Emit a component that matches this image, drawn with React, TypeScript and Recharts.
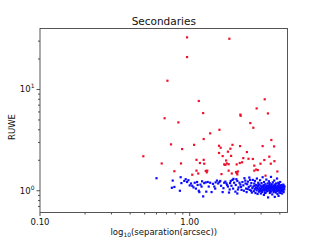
import React from "react";
import { ScatterChart, Scatter, XAxis, YAxis } from "recharts";

const redSep = [0.96, 1.84, 0.96, 0.71, 1.15, 3.17, 2.8, 0.68, 1.23, 2.18, 2.19, 3.33, 0.84, 2.54, 2.66, 1.58, 1.37, 1.24, 3.51, 0.75, 1.07, 1.57, 1.61, 1.93, 1.87, 2.17, 3.07, 3.66, 0.89, 1.57, 0.49, 1.8, 2.41, 1.66, 1.89, 1.11, 1.24, 1.75, 2.28, 2.47, 2.64, 3.4, 3.15, 3.68, 0.65, 0.875, 1.17, 1.25, 1.77, 1.7, 1.73, 1.82, 2.16, 2.24, 2.06, 2.7, 2.97, 3.48, 0.79, 1.11, 1.14, 1.28, 1.31, 1.3, 1.82, 1.91, 2.06, 2.1, 2.04, 2.08, 2.7, 2.78, 2.85, 3.85, 1.63, 1.04, 3.21];
const redRuwe = [32.7, 31.7, 20.9, 12.2, 7.7, 8.0, 6.5, 5.2, 5.85, 5.65, 5.5, 5.8, 4.73, 4.66, 4.19, 4.0, 3.69, 3.24, 3.17, 2.87, 2.84, 2.78, 2.66, 2.84, 2.6, 2.76, 2.76, 2.74, 2.58, 2.36, 2.19, 2.43, 2.41, 2.2, 2.21, 2.02, 2.02, 1.99, 2.1, 2.07, 2.06, 2.17, 2.01, 1.96, 1.86, 1.86, 1.88, 1.85, 1.86, 1.82, 1.8, 1.83, 1.88, 1.91, 1.82, 1.77, 1.85, 1.85, 1.56, 1.58, 1.48, 1.57, 1.58, 1.52, 1.58, 1.48, 1.5, 1.55, 1.53, 1.45, 1.58, 1.62, 1.6, 1.55, 1.46, 1.44, 1.41];

const blueSep = [0.6, 0.77, 0.76, 0.79, 0.86, 0.87, 0.88, 0.92, 0.94, 0.96, 0.98, 1.0, 1.02, 1.04, 1.06, 1.08, 1.1, 1.12, 1.13, 1.15, 1.16, 1.18, 1.2, 1.21, 1.23, 1.25, 1.28, 1.29, 1.32, 1.34, 1.37, 1.4, 1.43, 1.46, 1.49, 1.52, 1.55, 1.58, 1.62, 1.66, 1.7, 1.73, 1.76, 1.8, 1.83, 1.86, 1.88, 1.9, 1.93, 1.96, 1.98, 2.02, 2.05, 2.08, 2.08, 2.12, 2.15, 2.18, 2.22, 2.25, 2.28, 2.32, 2.35, 2.38, 2.4, 2.42, 2.45, 2.48, 2.5, 2.52, 2.55, 2.58, 2.6, 2.62, 2.64,
  2.66, 2.68, 2.7, 2.72, 2.73, 2.75, 2.77, 2.78, 2.8, 2.81, 2.83, 2.84, 2.86, 2.87, 2.89, 2.9, 2.92, 2.93, 2.95, 2.96, 2.98, 2.99, 3.01, 3.02, 3.04, 3.05, 3.07, 3.08, 3.1, 3.11, 3.13, 3.14, 3.16, 3.17, 3.19, 3.2, 3.22, 3.23, 3.25, 3.26, 3.28, 3.29, 3.31, 3.32, 3.34, 3.35, 3.37, 3.38, 3.4, 3.41, 3.43, 3.44, 3.46, 3.47, 3.49, 3.5, 3.52, 3.53, 3.55, 3.56, 3.58, 3.59, 3.61, 3.62, 3.64, 3.65, 3.67, 3.68, 3.7, 3.71, 3.73, 3.74, 3.76, 3.77, 3.79, 3.8, 3.82, 3.83, 3.85, 3.86, 3.88, 3.89, 3.91, 3.92, 3.94, 3.95, 3.97, 3.98, 4.0, 4.02, 4.03, 4.05, 4.07, 4.08, 4.1, 4.12, 4.14, 4.16, 4.18, 4.2, 4.22, 4.24, 4.26, 4.28, 4.3,
  2.71, 2.79, 2.88, 2.97, 3.03, 3.09, 3.15, 3.21, 3.27, 3.33, 3.39, 3.45, 3.51, 3.57, 3.63, 3.69, 3.75, 3.81, 3.87, 3.93, 3.99, 4.04, 4.11, 4.17, 4.25, 2.92, 3.18, 3.42, 3.66, 3.9, 4.13,
  2.03, 2.1, 2.2, 2.3, 2.36, 2.44, 2.53, 2.57, 1.95, 1.85, 1.78, 1.68, 1.6, 1.48];
const blueRuwe = [1.33, 1.26, 1.07, 1.09, 1.0, 1.36, 1.19, 1.25, 1.3, 1.22, 1.27, 1.13, 1.18, 1.12, 1.08, 1.2, 1.05, 1.22, 1.14, 1.0, 0.97, 1.15, 1.1, 1.24, 0.88, 1.19, 1.21, 0.98, 1.22, 1.1, 1.2, 0.97, 1.17, 1.1, 1.21, 1.26, 1.18, 1.22, 1.12, 0.97, 1.2, 1.23, 1.18, 1.1, 0.96, 1.19, 1.25, 1.12, 1.28, 1.31, 1.2, 0.98, 1.3, 0.94, 1.25, 1.08, 1.2, 1.15, 1.02, 1.22, 1.13, 1.33, 1.26, 1.05, 0.97, 1.16, 1.23, 1.09, 1.35, 1.02, 1.12, 1.19, 0.96, 1.06, 1.28,
  1.1, 0.99, 1.18, 1.04, 1.25, 0.95, 1.08, 1.14, 1.01, 1.32, 1.06, 0.93, 1.11, 1.2, 1.03, 0.98, 1.15, 1.07, 1.27, 1.0, 1.12, 0.94, 1.05, 1.19, 1.09, 0.97, 1.36, 1.02, 1.13, 1.06, 0.91, 1.22, 1.0, 1.1, 1.04, 1.16, 0.96, 1.08, 1.29, 1.02, 1.12, 0.99, 1.06, 1.18, 0.86, 1.03, 1.09, 1.24, 1.0, 1.14, 0.95, 1.07, 1.11, 1.02, 1.37, 0.98, 1.05, 1.16, 1.09, 0.92, 1.01, 1.21, 1.07, 1.12, 0.97, 1.04, 1.26, 1.09, 0.87, 1.0, 1.14, 1.06, 0.96, 1.18, 1.03, 1.1, 0.99, 1.32, 1.05, 0.93, 1.12, 1.01, 1.08, 0.89, 1.17, 1.03, 0.97, 1.1, 1.06, 1.22, 0.95, 1.04, 1.13, 0.99, 1.08, 1.02, 0.94, 1.11, 1.05, 1.0, 1.15, 0.97, 1.07, 1.03, 1.1,
  1.12, 1.06, 1.15, 1.04, 1.0, 1.09, 1.13, 1.03, 1.07, 1.11, 1.05, 1.0, 1.13, 1.08, 1.02, 1.15, 1.1, 1.06, 1.04, 1.13, 1.01, 1.09, 1.14, 1.01, 1.12, 0.99, 0.95, 1.19, 1.0, 1.2, 1.06,
  1.14, 1.03, 1.09, 1.0, 1.18, 1.04, 1.28, 1.0, 1.05, 1.03, 1.14, 1.06, 1.25, 1.05];

const xTicks = [0.1, 0.2, 0.3, 0.4, 0.5, 0.6, 0.7, 0.8, 0.9, 1, 2, 3, 4];
const xMajorLabels: Record<string, string> = { "0.1": "0.10", "1": "1.00" };
const yTicks = [0.7, 0.8, 0.9, 1, 2, 3, 4, 5, 6, 7, 8, 9, 10, 20, 30];
const yMajorExp: Record<string, string> = { "1": "0", "10": "1" };

const title = "Secondaries";
const yLabel = "RUWE";

const redData = redSep.map((x, i) => ({ x, y: redRuwe[i] }));
const blueData = blueSep.map((x, i) => ({ x, y: blueRuwe[i] }));

const FONT = "DejaVu Sans, sans-serif";

const XTick = (props: any) => {
  const { x, y, payload } = props;
  const lbl = xMajorLabels[String(payload.value)];
  const major = lbl !== undefined;
  return (
    <g>
      <line x1={x} x2={x} y1={y} y2={y + (major ? 3.5 : 2)} stroke="#222" strokeWidth={0.8} />
      {major && (
        <text x={x} y={y + 12} textAnchor="middle" fontSize={8.5} fill="#111" fontFamily={FONT}>
          {lbl}
        </text>
      )}
    </g>
  );
};

const YTick = (props: any) => {
  const { x, y, payload } = props;
  const exp = yMajorExp[String(payload.value)];
  const major = exp !== undefined;
  return (
    <g>
      <line x1={x} x2={x - (major ? 3.5 : 2)} y1={y} y2={y} stroke="#222" strokeWidth={0.8} />
      {major && (
        <text x={x - 5.5} y={y + 3} textAnchor="end" fontSize={8.5} fill="#111" fontFamily={FONT}>
          10
          <tspan dy={-4} fontSize={6}>{exp}</tspan>
        </text>
      )}
    </g>
  );
};

const Dot = (color: string) => (props: any) => {
  const { cx, cy } = props;
  return <rect x={cx - 1.1} y={cy - 1.1} width={2.2} height={2.2} fill={color} />;
};

export default function App() {
  return (
    <div style={{ position: "absolute", left: 0, top: 0, width: 320, height: 240, background: "#fff" }}>
      <ScatterChart width={320} height={240} margin={{ top: 28.5, right: 32.5, bottom: 0, left: 0 }}>
        <XAxis
          dataKey="x"
          type="number"
          scale="log"
          domain={[0.1, 4.5]}
          allowDataOverflow
          ticks={xTicks}
          interval={0}
          height={27.5}
          tickSize={0}
          tickMargin={0}
          tickLine={false}
          axisLine={false}
          tick={<XTick />}
        />
        <YAxis
          dataKey="y"
          type="number"
          scale="log"
          domain={[0.61, 40]}
          allowDataOverflow
          ticks={yTicks}
          interval={0}
          width={40}
          tickSize={0}
          tickMargin={0}
          tickLine={false}
          axisLine={false}
          tick={<YTick />}
        />
        <Scatter data={blueData} fill="#0000ff" shape={Dot("#0a0aff")} isAnimationActive={false} />
        <Scatter data={redData} fill="#ff0000" shape={Dot("#f0102a")} isAnimationActive={false} />
      </ScatterChart>
      <svg width={320} height={240} style={{ position: "absolute", left: 0, top: 0, pointerEvents: "none" }}>
        <rect x={40} y={28.5} width={247.5} height={184} fill="none" stroke="#444" strokeWidth={0.9} />
        <text x={163.75} y={24.5} textAnchor="middle" fontSize={10.5} fill="#111" fontFamily={FONT}>
          {title}
        </text>
        <text
          x={0}
          y={0}
          transform="translate(14.5 127) rotate(-90)"
          textAnchor="middle"
          fontSize={8.5}
          fill="#111"
          fontFamily={FONT}
        >
          {yLabel}
        </text>
        <text x={163.75} y={234.5} textAnchor="middle" fontSize={8.5} fill="#111" fontFamily={FONT}>
          log
          <tspan dy={2} fontSize={6}>10</tspan>
          <tspan dy={-2}>(separation(arcsec))</tspan>
        </text>
      </svg>
    </div>
  );
}
